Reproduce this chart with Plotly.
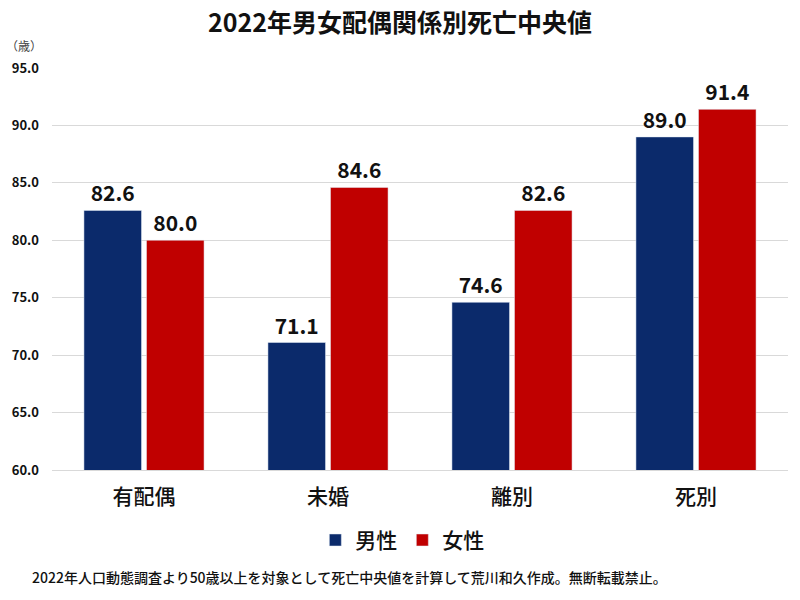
import plotly.graph_objects as go

categories = ["有配偶", "未婚", "離別", "死別"]
male = [82.6, 71.1, 74.6, 89.0]
female = [80.0, 84.6, 82.6, 91.4]
series_names = ["男性", "女性"]
y_ticks = [60, 65, 70, 75, 80, 85, 90, 95]

FONT = "Noto Sans CJK JP"
NAVY = "#0B2A6B"
RED = "#C00000"

fig = go.Figure()
for name, vals, col in [(series_names[0], male, NAVY), (series_names[1], female, RED)]:
    fig.add_trace(go.Bar(
        x=categories, y=vals, name=name, marker_color=col,
        text=[f"{v:.1f}" for v in vals], textposition="outside",
        textfont=dict(family=FONT, size=21, color="#111111", weight="bold"),
        cliponaxis=False,
    ))

fig.update_layout(
    width=800, height=600,
    paper_bgcolor="white", plot_bgcolor="white",
    margin=dict(l=50, r=12, t=68, b=130),
    barmode="group", bargap=0.32, bargroupgap=0.08,
    font=dict(family=FONT, color="#111111"),
    title=dict(text="<b>2022年男女配偶関係別死亡中央値</b>", x=0.5, xanchor="center",
               y=0.962, yanchor="middle", font=dict(size=25, family=FONT, color="#111111")),
    showlegend=True,
    legend=dict(orientation="h", x=0.476, xanchor="center", y=-0.175, yanchor="middle",
                font=dict(size=21, family=FONT, color="#111111", weight=500),
                itemwidth=30, traceorder="normal"),
)
fig.update_yaxes(range=[60, 95], tickvals=y_ticks, tickformat=".1f",
                 showgrid=True, gridcolor="#D9D9D9", gridwidth=1, zeroline=False,
                 showline=False, ticks="", ticklen=0, ticklabelstandoff=12,
                 tickfont=dict(size=13, family=FONT, color="#111111", weight="bold"))
fig.update_xaxes(showline=True, linecolor="#D9D9D9", linewidth=1, ticks="",
                 ticklabelstandoff=8,
                 tickfont=dict(size=21, family=FONT, color="#111111", weight=500))

fig.add_annotation(text="（歳）", xref="paper", yref="paper", x=-0.065, y=1.055,
                   xanchor="left", yanchor="middle", showarrow=False,
                   font=dict(size=12, family=FONT, color="#444444"))
fig.add_annotation(text="2022年人口動態調査より50歳以上を対象として死亡中央値を計算して荒川和久作成。無断転載禁止。",
                   xref="paper", yref="paper", x=-0.03, y=-0.267, xanchor="left", yanchor="middle",
                   showarrow=False, font=dict(size=14, family=FONT, color="#111111", weight=500))

fig.write_html("out.html", config={"displayModeBar": False},
               post_script="document.body.style.margin='0';")
